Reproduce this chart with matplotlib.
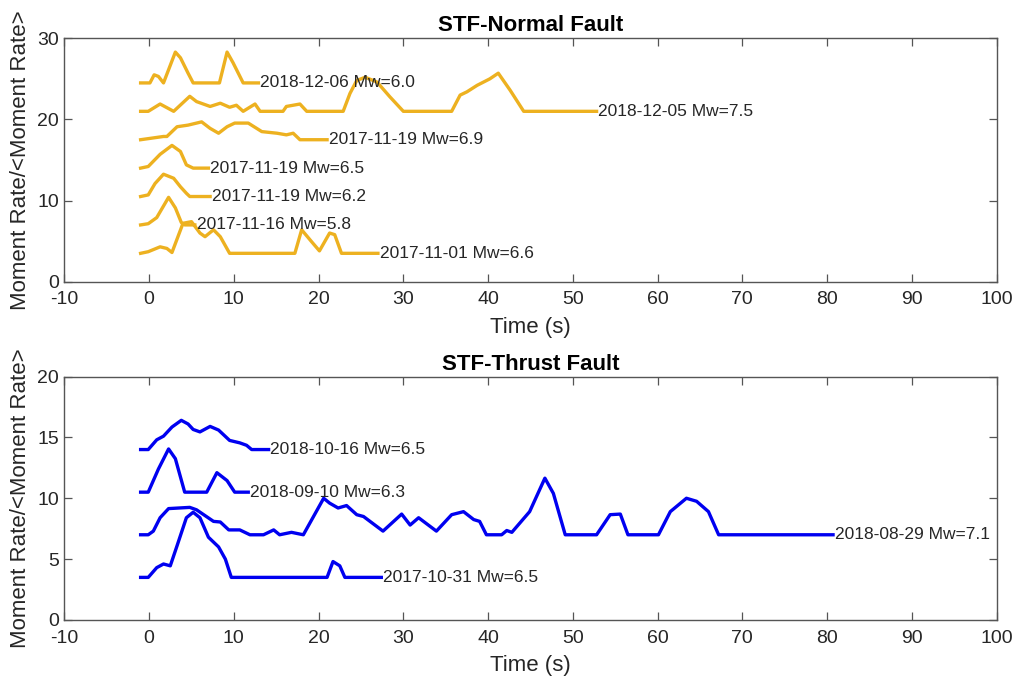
# Source time functions, normal vs thrust events
# stacked with a vertical offset, label at the end of each trace

import matplotlib.pyplot as plt

plt.rcParams['font.family'] = ['Liberation Sans', 'DejaVu Sans']
plt.rcParams['axes.unicode_minus'] = False

# ---- Normal fault events (time in s, moment rate above the trace baseline)
normal_labels = ['2017-11-01 Mw=6.6', '2017-11-16 Mw=5.8', '2017-11-19 Mw=6.2',
                 '2017-11-19 Mw=6.5', '2017-11-19 Mw=6.9', '2018-12-05 Mw=7.5',
                 '2018-12-06 Mw=6.0']
normal_offsets = [3.5, 7.0, 10.5, 14.0, 17.5, 21.0, 24.5]

n1_t = [-1.0, -0.1, 1.3, 2.1, 2.7, 4.0, 5.0, 6.0, 6.6, 7.6, 8.4, 9.5, 17.2, 18.0,
        19.2, 20.1, 21.3, 21.9, 22.7, 27.0]
n1_v = [0, 0.2, 0.8, 0.6, 0.1, 3.7, 3.9, 2.5, 2.05, 2.9, 2.05, 0, 0, 2.9,
        1.4, 0.3, 2.5, 2.3, 0, 0]

n2_t = [-1.0, -0.1, 0.9, 2.3, 3.1, 3.8, 4.2, 5.4]
n2_v = [0, 0.15, 0.9, 3.4, 2.1, 0.3, 0, 0]

n3_t = [-1.0, -0.1, 0.7, 1.7, 2.9, 3.7, 4.4, 4.8, 7.2]
n3_v = [0, 0.2, 1.6, 2.75, 2.25, 1.2, 0.4, 0, 0]

n4_t = [-1.0, -0.1, 1.3, 2.7, 3.7, 4.4, 5.2, 7.0]
n4_v = [0, 0.2, 1.7, 2.8, 2.05, 0.4, 0, 0]

n5_t = [-1.0, 1.7, 2.1, 3.3, 4.6, 6.2, 7.2, 8.2, 9.2, 10.1, 11.7, 13.3, 15.1,
        16.2, 17.0, 17.8, 21.0]
n5_v = [0, 0.4, 0.4, 1.6, 1.8, 2.2, 1.4, 0.8, 1.6, 2.05, 2.05, 1.0, 0.8,
        0.6, 0.8, 0, 0]

n6_t = [-1.0, -0.1, 1.3, 2.9, 4.8, 5.6, 7.2, 8.4, 9.5, 10.3, 11.1, 12.5, 13.1,
        15.8, 16.2, 17.8, 18.6, 22.9, 23.7, 24.5, 25.5, 26.9, 28.4, 30.0, 35.7,
        36.7, 37.5, 38.7, 40.2, 41.2, 42.6, 44.2, 52.8]
n6_v = [0, 0, 0.9, 0, 1.85, 1.2, 0.6, 1.0, 0.5, 0.75, 0, 0.9, 0,
        0, 0.6, 0.9, 0, 0, 2.2, 3.8, 4.2, 3.6, 1.8, 0, 0,
        2.0, 2.4, 3.2, 4.0, 4.7, 2.6, 0, 0]

n7_t = [-1.0, 0.1, 0.6, 1.1, 1.7, 3.1, 3.7, 4.6, 5.2, 8.3, 9.2, 9.9, 11.1, 12.9]
n7_v = [0, 0, 1.0, 0.8, 0, 3.8, 3.1, 1.2, 0, 0, 3.8, 2.5, 0, 0]

normal_t = [n1_t, n2_t, n3_t, n4_t, n5_t, n6_t, n7_t]
normal_v = [n1_v, n2_v, n3_v, n4_v, n5_v, n6_v, n7_v]

# ---- Thrust fault events
thrust_labels = ['2017-10-31 Mw=6.5', '2018-08-29 Mw=7.1', '2018-09-10 Mw=6.3',
                 '2018-10-16 Mw=6.5']
thrust_offsets = [3.5, 7.0, 10.5, 14.0]

t1_t = [-1.0, -0.1, 0.9, 1.7, 2.5, 3.3, 4.4, 5.2, 6.0, 7.0, 8.2, 9.0, 9.7,
        21.0, 21.7, 22.5, 23.1, 27.4]
t1_v = [0, 0, 0.8, 1.1, 0.95, 2.6, 4.9, 5.35, 4.9, 3.3, 2.5, 1.5, 0,
        0, 1.3, 0.95, 0, 0]

t2_t = [-1.0, -0.1, 0.5, 1.3, 2.3, 4.8, 5.6, 7.6, 8.4, 9.4, 10.7, 11.9, 13.5,
        14.7, 15.4, 16.8, 18.2, 20.6, 21.3, 22.3, 23.3, 24.5, 25.3, 27.6, 29.8,
        30.8, 31.8, 33.9, 35.7, 37.1, 38.3, 39.0, 39.8, 41.6, 42.2, 42.8, 44.9,
        46.7, 47.7, 49.1, 52.8, 54.4, 55.6, 56.5, 60.1, 61.5, 63.4, 64.6, 66.0,
        67.2, 80.7]
t2_v = [0, 0, 0.3, 1.4, 2.15, 2.25, 2.05, 1.1, 1.05, 0.4, 0.4, 0, 0,
        0.4, 0, 0.2, 0, 3.0, 2.6, 2.2, 2.4, 1.65, 1.5, 0.3, 1.7,
        0.8, 1.4, 0.3, 1.65, 1.9, 1.25, 1.1, 0, 0, 0.35, 0.2, 1.9,
        4.65, 3.4, 0, 0, 1.65, 1.7, 0, 0, 1.9, 3.0, 2.75, 1.9,
        0, 0]

t3_t = [-1.0, -0.1, 1.1, 2.3, 3.1, 4.2, 6.8, 8.0, 9.2, 10.1, 11.7]
t3_v = [0, 0, 1.9, 3.55, 2.75, 0, 0, 1.6, 0.95, 0, 0]

t4_t = [-1.0, -0.1, 0.9, 1.7, 2.7, 3.8, 4.6, 5.2, 6.0, 7.2, 8.2, 9.5, 10.7,
        11.5, 12.1, 14.1]
t4_v = [0, 0, 0.8, 1.1, 1.85, 2.4, 2.1, 1.65, 1.45, 1.9, 1.6, 0.75, 0.55,
        0.35, 0, 0]

thrust_t = [t1_t, t2_t, t3_t, t4_t]
thrust_v = [t1_v, t2_v, t3_v, t4_v]

axis_col = '#555555'
text_col = '#262626'

fig = plt.figure(figsize=(10.18, 6.79), dpi=100)
ax1 = fig.add_axes([0.0632, 0.5851, 0.9158, 0.3585])
ax2 = fig.add_axes([0.0632, 0.0869, 0.9158, 0.3586])


def draw_panel(ax, times, vals, offsets, labels, color, ymax, ystep, title):
    for t, v, off, lab in zip(times, vals, offsets, labels):
        ax.plot(t, [off + a for a in v], color=color, lw=2.4,
                solid_joinstyle='round')
        ax.text(t[-1] + 0.2, off, lab, fontsize=12.5, color=text_col,
                ha='left', va='center')
    ax.set_xlim(-10, 100)
    ax.set_ylim(0, ymax)
    ax.set_xticks(range(-10, 101, 10))
    ax.set_yticks(range(0, ymax + 1, ystep))
    ax.tick_params(direction='in', length=6, width=0.9, top=True, right=True,
                   labelsize=14, colors=axis_col, labelcolor=text_col)
    ax.tick_params(axis='x', pad=7)
    ax.tick_params(axis='y', pad=4)
    for s in ax.spines.values():
        s.set_color(axis_col)
        s.set_linewidth(1.0)
    ax.set_xlabel('Time (s)', fontsize=16, color=text_col, labelpad=6)
    ax.set_ylabel('Moment Rate/<Moment Rate>', fontsize=16, color=text_col,
                  labelpad=4)
    ax.set_title(title, fontsize=16, fontweight='bold', color='black', pad=5)


draw_panel(ax1, normal_t, normal_v, normal_offsets, normal_labels,
           '#EDB120', 30, 10, 'STF-Normal Fault')
draw_panel(ax2, thrust_t, thrust_v, thrust_offsets, thrust_labels,
           '#0000F0', 20, 5, 'STF-Thrust Fault')

fig.savefig('out.png', dpi=100)
